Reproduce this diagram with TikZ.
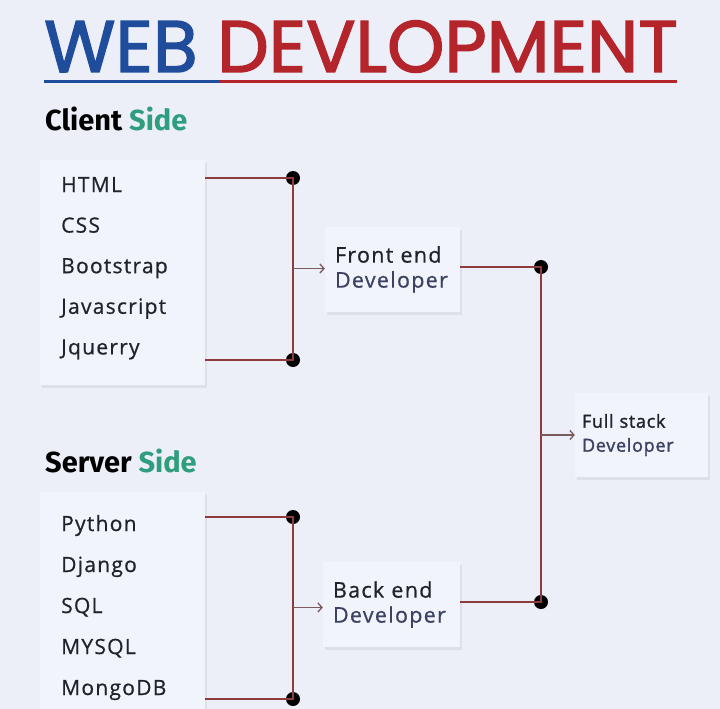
\documentclass[tikz,border=0pt]{standalone}
\usepackage{fontspec}
\usepackage{xcolor}
\setmainfont{Open Sans}[UprightFeatures={FakeBold=0.7},LetterSpace=6]
\newfontfamily\stackfont{Open Sans}[UprightFeatures={FakeBold=1.6},LetterSpace=4]
\newfontfamily\titlefont{Poppins}[UprightFeatures={FakeBold=2}]
\newfontfamily\headfont{Fira Sans}
\usepackage{tikz}
\usetikzlibrary{arrows.meta,shadows}

\definecolor{bgcol}{HTML}{ECEEF8}
\definecolor{boxcol}{HTML}{F2F4FB}
\definecolor{wirecol}{HTML}{8E3B3E}
\definecolor{webblue}{HTML}{1F4D9C}
\definecolor{webred}{HTML}{B3242B}
\definecolor{sidegreen}{HTML}{2E9E7E}
\definecolor{itemcol}{HTML}{20222E}
\definecolor{devcol}{HTML}{3B4263}
\definecolor{tipcol}{HTML}{7A5A5C}

\begin{document}
\begin{tikzpicture}[
  x=1pt,y=-1pt,
  listbox/.style={fill=boxcol,inner sep=0pt,drop shadow={opacity=0.12,shadow xshift=2pt,shadow yshift=-3pt}},
  devbox/.style={fill=boxcol,inner xsep=10pt,align=left,text=itemcol,
    drop shadow={opacity=0.12,shadow xshift=2pt,shadow yshift=-3pt}},
  item/.style={anchor=base west,inner sep=0pt,text=itemcol,font=\fontsize{21}{21}\selectfont},
  sidehead/.style={anchor=base west,inner sep=0pt,font=\headfont\bfseries\fontsize{29}{29}\selectfont},
  wire/.style={draw=wirecol,line width=2.4pt},
  to/.style={-{Straight Barb[length=4pt,width=9pt]},draw=tipcol,line width=1.3pt},
  dot/.style={circle,fill=black,inner sep=0pt,minimum size=14pt}]

  % Background and page size
  \fill[bgcol] (0,0) rectangle (720,709);
  \useasboundingbox (0,0) rectangle (720,709);
  \clip (0,0) rectangle (720,709);

  % Title with its two coloured underlines
  \node[anchor=base west,inner sep=0pt,font=\titlefont\fontsize{73}{73}\selectfont] (title) at (44,72)
    {\textcolor{webblue}{WEB} \textcolor{webred}{DEVLOPMENT}};
  \coordinate (rule_start) at (44,81);
  \coordinate (rule_mid) at (220,81);
  \coordinate (rule_end) at (677,81);
  \draw[webblue,line width=3pt] (rule_start) -- (rule_mid);
  \draw[webred,line width=3pt] (rule_mid) -- (rule_end);

  % Section headings
  \node[sidehead] (client_head) at (45,130) {Client \textcolor{sidegreen}{Side}};
  \node[sidehead] (server_head) at (45,472) {Server \textcolor{sidegreen}{Side}};

  % The two lists
  \node[listbox,minimum width=165pt,minimum height=225pt] (client_list) at (122.5,272.5) {};
  \node[listbox,minimum width=165pt,minimum height=230pt] (server_list) at (122.5,607) {};
  \foreach \name [count=\i from 0] in {HTML,CSS,Bootstrap,Javascript,Jquerry}
    \node[item] (client_\i) at (61,192+40.6*\i) {\name};
  \foreach \name [count=\i from 0] in {Python,Django,SQL,MYSQL,MongoDB}
    \node[item] (server_\i) at (61,531+41*\i) {\name};

  % Developer boxes
  \node[devbox,minimum width=135pt,minimum height=85pt,text width=115pt,
    font=\fontsize{21.5}{25}\selectfont] (front_end) at (392.5,269.5)
    {Front end\\\textcolor{devcol}{Developer}};
  \node[devbox,minimum width=137pt,minimum height=85pt,text width=117pt,
    font=\fontsize{21.5}{25}\selectfont] (back_end) at (391.5,604.5)
    {Back end\\\textcolor{devcol}{Developer}};
  \node[devbox,inner xsep=7pt,minimum width=133pt,minimum height=84pt,text width=119pt,
    font=\stackfont\fontsize{18}{24}\selectfont] (full_stack) at (641.5,435)
    {Full stack\\\textcolor{devcol}{Developer}};

  % Junction dots
  \node[dot] (client_top) at (293,178) {};
  \node[dot] (client_bot) at (293,360) {};
  \node[dot] (server_top) at (293,517) {};
  \node[dot] (server_bot) at (293,699) {};
  \node[dot] (front_dot) at (541,267) {};
  \node[dot] (back_dot) at (541,602) {};

  % Wires
  \draw[wire] (client_list.east |- client_top) -- (client_top.center) -- (client_bot.center) -- (client_list.east |- client_bot);
  \draw[wire] (server_list.east |- server_top) -- (server_top.center) -- (server_bot.center) -- (server_list.east |- server_bot);
  \draw[wire] (front_end.east |- front_dot) -- (front_dot.center) -- (back_dot.center) -- (back_end.east |- back_dot);

  % Arrows into the boxes
  \draw[to] (client_top |- front_end.west) ++(0,-1) -- (front_end.west |- 0,268.5);
  \draw[to] (server_top |- back_end.west) ++(0,3) -- (back_end.west |- 0,607.5);
  \draw[to] (front_dot |- full_stack.west) -- (full_stack.west);
\end{tikzpicture}
\end{document}
